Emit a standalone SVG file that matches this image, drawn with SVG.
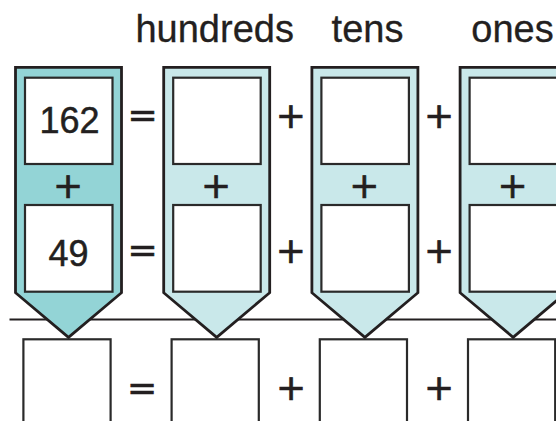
<svg xmlns="http://www.w3.org/2000/svg" width="556" height="421" viewBox="0 0 556 421">
<defs>
<style>
.col{stroke:#231f20;stroke-width:2.8;stroke-linejoin:miter}
.dark{fill:#93d4d6}
.light{fill:#c9e8ea}
.box{fill:#ffffff;stroke:#2a2a2a;stroke-width:2.2}
.lbl{font-family:"Liberation Sans",Arial,sans-serif;font-size:38px;fill:#231f20;text-anchor:middle;stroke:#231f20;stroke-width:0.3}
.num{font-family:"Liberation Sans",Arial,sans-serif;font-size:36px;fill:#231f20;text-anchor:middle;stroke:#231f20;stroke-width:0.5}
.op{font-family:"DejaVu Sans",sans-serif;font-size:36px;fill:#231f20;text-anchor:middle;stroke:#231f20;stroke-width:0.7}
</style>
</defs>
<rect width="556" height="421" fill="#ffffff"/>
<g id="labels">
<text class="lbl" x="214.7" y="42.3">hundreds</text>
<text class="lbl" x="367.5" y="42.3">tens</text>
<text class="lbl" x="512.5" y="42.3">ones</text>
</g>
<g id="connectors">
<line x1="9.5" y1="319.5" x2="556" y2="319.5" stroke="#231f20" stroke-width="2"/>
</g>
<g id="col-number">
<path class="col dark" d="M15.5,67.3 H121.5 V292.7 L68.5,337.3 L15.5,292.7 Z"/>
<rect class="box" x="25" y="77.7" width="87.5" height="86.3"/>
<rect class="box" x="25" y="205" width="87.5" height="86.7"/>
<text class="num" x="69.5" y="132.7">162</text>
<text class="num" x="68.5" y="266">49</text>
<text class="op" x="68" y="197.5">+</text>
</g>
<g id="col-hundreds">
<path class="col light" d="M163.7,67.3 H269.7 V292.7 L216.7,337.3 L163.7,292.7 Z"/>
<rect class="box" x="173.2" y="77.7" width="87.5" height="86.3"/>
<rect class="box" x="173.2" y="205" width="87.5" height="86.7"/>
<text class="op" x="216.2" y="197.5">+</text>
</g>
<g id="col-tens">
<path class="col light" d="M311.9,67.3 H417.9 V292.7 L364.9,337.3 L311.9,292.7 Z"/>
<rect class="box" x="321.4" y="77.7" width="87.5" height="86.3"/>
<rect class="box" x="321.4" y="205" width="87.5" height="86.7"/>
<text class="op" x="364.4" y="197.5">+</text>
</g>
<g id="col-ones">
<path class="col light" d="M460.1,67.3 H566.1 V292.7 L513.1,337.3 L460.1,292.7 Z"/>
<rect class="box" x="469.6" y="77.7" width="87.5" height="86.3"/>
<rect class="box" x="469.6" y="205" width="87.5" height="86.7"/>
<text class="op" x="512.6" y="197.5">+</text>
</g>
<g id="operators">
<text class="op" x="142.6" y="127">=</text>
<text class="op" x="290.8" y="127.5">+</text>
<text class="op" x="439.2" y="127.5">+</text>
<text class="op" x="142.6" y="262">=</text>
<text class="op" x="290.8" y="262.5">+</text>
<text class="op" x="439.2" y="262.5">+</text>
<text class="op" x="142" y="399.5">=</text>
<text class="op" x="291" y="400">+</text>
<text class="op" x="439" y="400">+</text>
</g>
<g id="result-boxes">
<rect class="box" x="23.4" y="339.3" width="87.2" height="95"/>
<rect class="box" x="171.6" y="339.3" width="87.2" height="95"/>
<rect class="box" x="319.8" y="339.3" width="87.2" height="95"/>
<rect class="box" x="468" y="339.3" width="87.2" height="95"/>
</g>
</svg>
